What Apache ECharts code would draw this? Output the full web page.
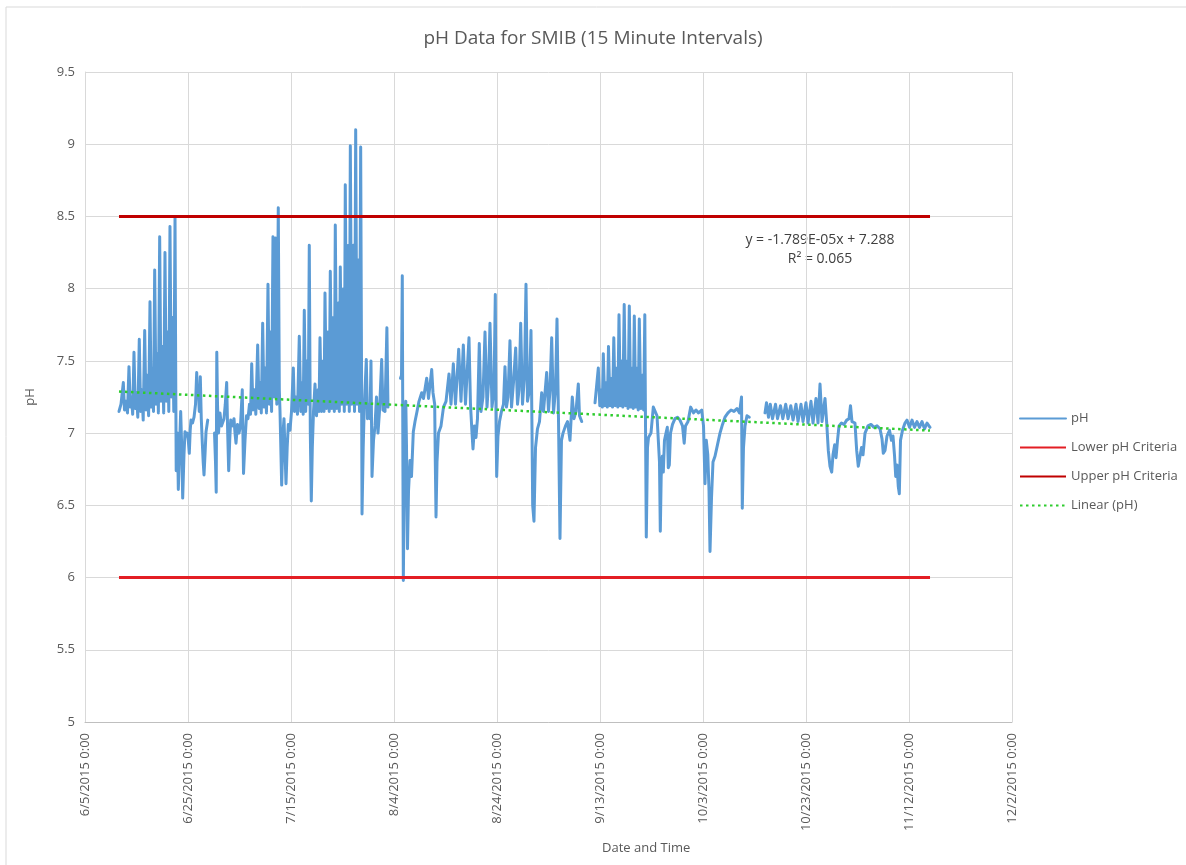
<!DOCTYPE html>
<html>
<head>
<meta charset="utf-8">
<title>pH Data for SMIB</title>
<script src="https://cdn.jsdelivr.net/npm/echarts@6/dist/echarts.min.js"></script>
<style>
  html, body { margin: 0; padding: 0; background: #ffffff; }
  #chart { width: 1186px; height: 865px; }
</style>
</head>
<body>
<div id="chart"></div>
<script>
// Readings: days elapsed since 6/5/2015 0:00 and the pH at that time.
// A null pH marks a break in the record (logger offline).
const dayOffsets = [
  6.60, 6.99, 7.44, 7.67, 7.96, 8.25, 8.54, 8.80, 9.03, 9.26, 9.51, 9.77, 10.00, 10.25, 10.54, 10.80,
  11.03, 11.30, 11.59, 11.84, 12.08, 12.35, 12.62, 12.87, 13.09, 13.30, 13.53, 13.79, 14.02, 14.25,
  14.50, 14.76, 15.01, 15.28, 15.53, 15.79, 16.02, 16.27, 16.50, 16.76, 16.99, 17.24, 17.48, 17.63,
  17.71, 17.96, 18.12, 18.35, 18.58, 18.78, 18.97, 19.22, 19.42, 19.71, 19.86, 20.06, 20.25, 20.43,
  20.58, 20.87, 21.17, 21.46, 21.69, 21.84, 22.00, 22.19, 22.39, 22.58, 22.78, 22.95, 23.11, 23.30,
  23.50, 23.83, 24.50,
  25.15, 25.34, 25.48, 25.59, 25.73, 25.92, 26.21, 26.50, 26.74, 26.99, 27.24, 27.51, 27.71, 27.90,
  28.10, 28.29, 28.64, 28.93, 29.13, 29.32, 29.61, 29.90, 30.19, 30.54, 30.78, 31.07, 31.36, 31.65,
  31.94, 32.14, 32.37, 32.62, 32.91, 33.17, 33.53, 33.79, 34.04, 34.23, 34.50, 34.76, 35.01, 35.24,
  35.53, 35.79, 36.02, 36.23, 36.50, 36.76, 37.03, 37.24, 37.53, 37.73, 37.86, 38.19, 38.45, 38.64,
  39.03, 39.26, 39.48, 39.81, 40.10, 40.45, 40.68, 40.97, 41.26, 41.61, 41.90, 42.17, 42.37, 42.58,
  42.85, 43.11, 43.36, 43.55, 43.75, 43.94, 44.14, 44.37, 44.66, 44.95, 45.28, 45.44, 45.63, 45.92,
  46.25, 46.41, 46.60, 46.89, 47.18, 47.42, 47.63, 47.92, 48.25, 48.41, 48.60, 48.89, 49.22, 49.38,
  49.57, 49.86, 50.19, 50.35, 50.54, 50.84, 51.17, 51.32, 51.52, 51.81, 52.14, 52.33, 52.56, 52.82,
  53.15, 53.30, 53.53, 53.69, 53.79, 54.02, 54.21, 54.62, 54.85, 55.15, 55.34, 55.53, 55.73, 56.02,
  56.31, 56.60, 56.89, 57.18, 57.61, 57.86, 58.25, 58.62, 58.83, 60.00,
  61.26, 61.46, 61.61, 61.71, 61.81, 62.04, 62.29, 62.43, 62.62, 62.82, 63.11, 63.40, 63.75, 64.08,
  64.47, 64.85, 65.38, 65.73, 66.35, 66.70, 67.32, 67.57, 67.90, 68.02, 68.16, 68.35, 68.64, 69.13,
  69.61, 70.10, 70.68, 71.07, 71.52, 71.94, 72.56, 73.01, 73.46, 73.88, 74.56, 74.85, 75.15, 75.34,
  75.63, 75.92, 76.21, 76.56, 76.89, 77.28, 77.67, 78.06, 78.35, 78.64, 79.03, 79.42, 79.67, 79.81,
  79.94, 80.19, 80.49, 80.87, 81.26, 81.55, 81.84, 82.14, 82.52, 82.82, 83.20, 83.63, 83.98, 84.27,
  84.60, 84.95, 85.34, 85.63, 85.92, 86.31, 86.60, 86.80, 86.93, 87.18, 87.48, 87.86, 88.25, 88.68,
  89.03, 89.65, 90.00, 90.29, 90.62, 90.97, 91.36, 91.65, 91.94, 92.23, 92.52, 92.82, 93.30, 93.69,
  94.17, 94.62, 94.95, 95.34, 95.79, 96.02, 96.45, 97.50,
  99.03, 99.67, 99.96, 100.29, 100.45, 100.64, 100.93, 101.26, 101.42, 101.65, 101.94, 102.29,
  102.43, 102.68, 102.95, 103.30, 103.46, 103.69, 103.96, 104.27, 104.43, 104.70, 104.97, 105.28,
  105.44, 105.69, 105.96, 106.27, 106.45, 106.66, 106.93, 107.24, 107.42, 107.63, 107.92, 108.25,
  108.47, 108.70, 108.83, 108.99, 109.22, 109.42, 109.90, 110.35, 110.68, 111.07, 111.40, 111.55,
  111.71, 111.88, 112.10, 112.29, 112.52, 112.82, 113.07, 113.26, 113.46, 113.69, 114.08, 114.56,
  115.05, 115.53, 116.02, 116.35, 116.60, 117.09, 117.61, 118.16, 118.64, 119.13, 119.75, 120.10,
  120.39, 120.64, 120.93, 121.17, 121.36, 121.65, 121.94, 122.33, 122.82, 123.30, 123.79, 124.27,
  124.85, 125.44, 126.02, 126.60, 127.09, 127.48, 127.63, 127.86, 128.16, 128.54, 128.99, 130.50,
  132.04, 132.33, 132.72, 133.07, 133.50, 134.08, 134.47, 135.05, 135.50, 136.06, 136.51, 137.05,
  137.48, 138.06, 138.45, 139.03, 139.42, 140.00, 140.39, 140.97, 141.36, 141.94, 142.33, 142.72,
  143.11, 143.69, 144.02, 144.33, 144.66, 144.99, 145.24, 145.57, 145.83, 146.12, 146.41, 146.89,
  147.38, 147.90, 148.35, 148.64, 148.93, 149.51, 149.84, 150.15, 150.49, 150.78, 151.07, 151.46,
  152.04, 152.62, 153.20, 153.79, 154.37, 154.76, 155.01, 155.34, 155.73, 156.21, 156.60, 156.89,
  157.18, 157.42, 157.67, 157.92, 158.12, 158.35, 158.74, 159.22, 159.61, 160.10, 160.58, 161.07,
  161.55, 162.04, 162.52, 163.01, 163.50, 164.08
];

const phValues = [
  7.15, 7.20, 7.35, 7.16, 7.22, 7.14, 7.46, 7.18, 7.25, 7.13, 7.56, 7.17, 7.28, 7.11, 7.65, 7.15,
  7.30, 7.09, 7.71, 7.16, 7.40, 7.12, 7.91, 7.18, 7.45, 7.15, 8.13, 7.20, 7.55, 7.14,
  8.36, 7.22, 7.60, 7.14, 8.25, 7.22, 7.70, 7.15, 8.43, 7.25, 7.80, 7.15, 8.49, 7.30,
  6.74, 7.00, 6.61, 6.90, 7.15, 6.90, 6.55, 6.85, 7.01, 6.98, 7.00, 6.95, 6.86, 7.02,
  7.09, 7.07, 7.11, 7.20, 7.42, 7.25, 7.30, 7.15, 7.39, 7.10, 6.93, 6.80, 6.71, 6.85,
  7.01, 7.09, null,
  7.00, 6.80, 6.59, 7.56, 7.20, 7.00, 7.14, 7.05, 7.04, 7.10, 7.20, 7.35, 7.00, 6.74,
  6.95, 7.09, 7.05, 7.10, 7.00, 6.93, 7.06, 7.00, 7.05, 7.30, 6.72, 6.95, 7.12, 7.10,
  7.20, 7.13, 7.48, 7.16, 7.30, 7.13, 7.61, 7.17, 7.35, 7.14, 7.76, 7.18, 7.45, 7.14,
  8.03, 7.20, 7.70, 7.15, 8.36, 7.25, 8.35, 7.20, 8.56, 7.30, 7.16, 6.64, 7.00, 7.10,
  6.65, 6.90, 7.06, 7.02, 7.15, 7.45, 7.15, 7.25, 7.13, 7.67, 7.15, 7.35, 7.13, 7.85,
  7.15, 7.50, 7.20, 8.30, 7.00, 6.53, 6.90, 7.15, 7.34, 7.12, 7.30, 7.15, 7.66, 7.15,
  7.50, 7.15, 7.97, 7.17, 7.70, 7.15, 8.12, 7.17, 7.80, 7.15, 8.44, 7.17, 7.90, 7.15,
  8.15, 7.20, 8.00, 7.15, 8.72, 7.20, 8.30, 7.15, 8.99, 7.20, 8.30, 7.15, 9.10, 7.20,
  8.20, 7.15, 8.98, 7.50, 6.44, 6.90, 7.16, 7.51, 7.10, 7.20, 7.10, 7.50, 6.70, 6.95,
  7.05, 7.25, 7.00, 7.15, 7.51, 7.16, 7.15, 7.73, 7.18, null,
  7.38, 7.40, 8.09, 7.00, 5.98, 6.80, 7.22, 6.90, 6.20, 6.60, 6.81, 6.70, 7.01, 7.08,
  7.15, 7.22, 7.28, 7.24, 7.38, 7.24, 7.44, 7.28, 7.20, 6.80, 6.42, 6.80, 7.00, 7.05,
  7.18, 7.22, 7.41, 7.20, 7.48, 7.20, 7.58, 7.22, 7.61, 7.20, 7.66, 7.20, 7.00, 6.89,
  7.05, 6.97, 7.10, 7.62, 7.15, 7.25, 7.70, 7.18, 7.35, 7.76, 7.18, 7.30, 7.96, 7.10,
  6.70, 6.98, 7.08, 7.15, 7.20, 7.46, 7.18, 7.25, 7.64, 7.18, 7.35, 7.59, 7.20, 7.30,
  7.76, 7.20, 7.40, 8.03, 7.22, 7.30, 7.71, 7.00, 6.50, 6.39, 6.90, 7.03, 7.08, 7.28,
  7.15, 7.42, 7.15, 7.30, 7.66, 7.14, 7.30, 7.79, 7.10, 6.27, 6.95, 7.00, 7.05, 7.08,
  6.95, 7.25, 7.10, 7.15, 7.34, 7.12, 7.08, null,
  7.21, 7.45, 7.19, 7.30, 7.18, 7.55, 7.19, 7.35, 7.18, 7.60, 7.19, 7.38,
  7.18, 7.66, 7.19, 7.45, 7.18, 7.82, 7.19, 7.50, 7.18, 7.89, 7.19, 7.50,
  7.17, 7.88, 7.18, 7.45, 7.17, 7.81, 7.18, 7.45, 7.16, 7.79, 7.17, 7.40,
  7.16, 7.82, 7.10, 6.28, 6.90, 6.97, 7.00, 7.18, 7.19, 7.12, 7.11, 6.80,
  6.32, 6.70, 6.84, 6.73, 6.95, 7.00, 7.04, 6.76, 6.78, 7.00, 7.06, 7.10,
  7.11, 7.09, 7.05, 6.93, 7.05, 7.08, 7.18, 7.14, 7.16, 7.14, 7.16, 7.05,
  6.65, 6.95, 6.85, 6.60, 6.18, 6.55, 6.80, 6.84, 6.92, 7.00, 7.06, 7.11,
  7.14, 7.16, 7.15, 7.17, 7.14, 7.25, 6.48, 6.90, 7.05, 7.12, 7.11, null,
  7.14, 7.21, 7.11, 7.20, 7.10, 7.20, 7.10, 7.19, 7.10, 7.20, 7.10, 7.19,
  7.09, 7.20, 7.08, 7.20, 7.08, 7.21, 7.07, 7.22, 7.07, 7.24, 7.07, 7.34,
  7.08, 7.24, 7.07, 6.88, 6.77, 6.73, 6.85, 6.92, 6.83, 6.95, 7.05, 7.07,
  7.06, 7.09, 7.10, 7.19, 7.08, 7.07, 6.88, 6.77, 6.76, 6.90, 6.85, 7.00,
  7.05, 7.06, 7.04, 7.05, 7.03, 6.96, 6.86, 6.88, 6.98, 7.02, 6.95, 6.98,
  6.85, 6.70, 6.78, 6.63, 6.58, 6.95, 7.02, 7.07, 7.09, 7.04, 7.09, 7.04,
  7.08, 7.04, 7.08, 7.03, 7.07, 7.04
];

// Regulatory limits and the fitted linear trend (y = slope * n + intercept, n = reading number)
const lowerCriteria = 6.0;
const upperCriteria = 8.5;
const trendSlope = -1.789e-5;
const trendIntercept = 7.288;
const trendR2 = 0.065;
const readingsPerDay = 96; // 15-minute interval

// X axis: day offsets from 6/5/2015, ticks every 20 days
const axisMinDay = 0;
const axisMaxDay = 180;
const axisStepDay = 20;
const yTicks = { min: 5, max: 9.5, step: 0.5 };

function dayLabel(offset) {
  const d = new Date(2015, 5, 5 + Math.round(offset));
  return (d.getMonth() + 1) + '/' + d.getDate() + '/' + d.getFullYear() + ' 0:00';
}

const phData = dayOffsets.map((d, i) => phValues[i] === null ? [d, '-'] : [d, phValues[i]]);
const firstDay = dayOffsets[0];
const lastDay = dayOffsets[dayOffsets.length - 1];
const lastReading = Math.round((lastDay - firstDay) * readingsPerDay) + 1;
const trendData = [
  [firstDay, trendIntercept + trendSlope * 1],
  [lastDay, trendIntercept + trendSlope * lastReading]
];

const FONT = '"Open Sans", "Liberation Sans", sans-serif';
const chart = echarts.init(document.getElementById('chart'), null, { renderer: 'canvas' });

chart.setOption({
  backgroundColor: '#ffffff',
  animation: false,
  title: [
    {
      text: 'pH Data for SMIB (15 Minute Intervals)',
      left: 'center',
      top: 24,
      textStyle: { fontFamily: FONT, fontSize: 19, fontWeight: 'normal', color: '#595959' }
    },
    {
      text: 'Date and Time',
      left: 597,
      top: 837,
      textStyle: { fontFamily: FONT, fontSize: 13, fontWeight: 'normal', color: '#595959' }
    }
  ],
  graphic: [
    {
      type: 'rect',
      shape: { x: 6, y: 7, width: 1200, height: 900 },
      style: { fill: 'none', stroke: '#d9d9d9', lineWidth: 1 },
      silent: true
    },
    {
      type: 'text',
      x: 820,
      y: 233,
      style: {
        text: 'y = -1.789E-05x + 7.288',
        align: 'center',
        fontFamily: FONT, fontSize: 14, fill: '#404040'
      }
    },
    {
      type: 'text',
      x: 820,
      y: 252,
      style: {
        text: 'R² = ' + trendR2.toFixed(3),
        align: 'center',
        fontFamily: FONT, fontSize: 14, fill: '#404040'
      }
    }
  ],
  legend: {
    orient: 'vertical',
    left: 1014,
    top: 407,
    itemWidth: 46,
    itemHeight: 10,
    itemGap: 16,
    itemStyle: { opacity: 0 },
    textStyle: { fontFamily: FONT, fontSize: 13, color: '#595959' },
    data: ['pH', 'Lower pH Criteria', 'Upper pH Criteria', 'Linear (pH)']
  },
  grid: { left: 85, right: 174, top: 72, bottom: 143, containLabel: false },
  xAxis: {
    type: 'value',
    min: axisMinDay,
    max: axisMaxDay,
    interval: axisStepDay,
    axisLine: { show: true, lineStyle: { color: '#bfbfbf', width: 1 } },
    axisTick: { show: false },
    splitLine: { show: true, lineStyle: { color: '#d9d9d9', width: 1 } },
    axisLabel: {
      rotate: 90,
      margin: 11,
      fontFamily: FONT,
      fontSize: 13,
      color: '#595959',
      formatter: dayLabel
    }
  },
  yAxis: {
    type: 'value',
    min: yTicks.min,
    max: yTicks.max,
    interval: yTicks.step,
    name: 'pH',
    nameLocation: 'middle',
    nameGap: 48,
    nameTextStyle: { fontFamily: FONT, fontSize: 13, color: '#595959' },
    axisLine: { show: true, lineStyle: { color: '#d9d9d9', width: 1 } },
    axisTick: { show: false },
    splitLine: { show: true, lineStyle: { color: '#d9d9d9', width: 1 } },
    axisLabel: { margin: 10, fontFamily: FONT, fontSize: 13, color: '#595959' }
  },
  series: [
    {
      name: 'pH',
      type: 'line',
      data: phData,
      showSymbol: false,
      symbol: 'none',
      connectNulls: false,
      lineStyle: { color: '#5b9bd5', width: 3, join: 'round', cap: 'round' },
      itemStyle: { color: '#5b9bd5' },
      z: 2
    },
    {
      name: 'Lower pH Criteria',
      type: 'line',
      data: [[firstDay, lowerCriteria], [lastDay, lowerCriteria]],
      symbol: 'none',
      lineStyle: { color: '#e31e24', width: 3 },
      itemStyle: { color: '#e31e24' },
      z: 3
    },
    {
      name: 'Upper pH Criteria',
      type: 'line',
      data: [[firstDay, upperCriteria], [lastDay, upperCriteria]],
      symbol: 'none',
      lineStyle: { color: '#c00000', width: 3 },
      itemStyle: { color: '#c00000' },
      z: 3
    },
    {
      name: 'Linear (pH)',
      type: 'line',
      data: trendData,
      symbol: 'none',
      lineStyle: { color: '#2ecc2e', width: 2.5, type: [2.5, 3.5] },
      itemStyle: { color: '#2ecc2e' },
      z: 4
    }
  ]
});
</script>
</body>
</html>
